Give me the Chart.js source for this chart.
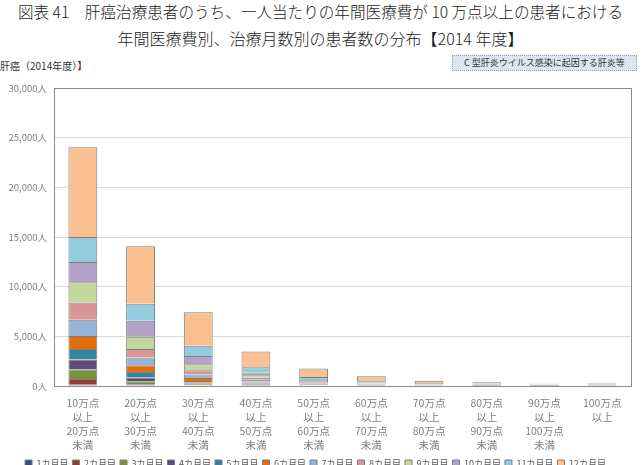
<!DOCTYPE html>
<html><head><meta charset="utf-8">
<script src="https://cdn.jsdelivr.net/npm/chart.js@4/dist/chart.umd.min.js"></script>
<style>
html,body{margin:0;padding:0;background:#fff;}
body{width:641px;height:465px;overflow:hidden;position:relative;font-family:"Noto Sans CJK JP","Noto Sans",sans-serif;}
.t{position:absolute;left:0;width:641px;text-align:center;font-size:16px;font-weight:300;color:#1a1a1a;white-space:nowrap;}
#sub{position:absolute;left:0;top:58px;font-size:10px;color:#333;white-space:nowrap;}
#box{position:absolute;left:452px;top:55px;width:183px;height:14px;border:1px dotted #8aa2c0;background:#dce6f2;font-size:9px;color:#333;text-align:center;line-height:14px;white-space:nowrap;}
#wrap{position:absolute;left:0;top:72px;width:641px;height:406px;}
</style></head>
<body>
<div class="t" style="top:0px;font-size:15.6px;">図表 41　肝癌治療患者のうち、一人当たりの年間医療費が 10 万点以上の患者における</div>
<div class="t" style="top:26px;">年間医療費別、治療月数別の患者数の分布【2014 年度】</div>
<div id="sub">肝癌（2014年度）】</div>
<div id="box">C 型肝炎ウイルス感染に起因する肝炎等</div>
<div id="wrap"><canvas id="c"></canvas></div>
<script>
const categories = [
  ['10万点','以上','20万点','未満'],
  ['20万点','以上','30万点','未満'],
  ['30万点','以上','40万点','未満'],
  ['40万点','以上','50万点','未満'],
  ['50万点','以上','60万点','未満'],
  ['60万点','以上','70万点','未満'],
  ['70万点','以上','80万点','未満'],
  ['80万点','以上','90万点','未満'],
  ['90万点','以上','100万点','未満'],
  ['100万点','以上']
];
const seriesNames = ['1カ月目','2カ月目','3カ月目','4カ月目','5カ月目','6カ月目','7カ月目','8カ月目','9カ月目','10カ月目','11カ月目','12カ月目'];
const m1  = [130, 100, 80, 60, 50, 25, 15, 10, 10, 15];
const m2  = [580, 80, 50, 30, 20, 10, 5, 5, 5, 5];
const m3  = [940, 300, 120, 80, 40, 20, 10, 10, 8, 10];
const m4  = [1010, 380, 80, 80, 40, 25, 15, 10, 10, 10];
const m5  = [1060, 560, 80, 90, 50, 30, 15, 15, 12, 15];
const m6  = [1310, 680, 400, 100, 60, 30, 20, 15, 15, 15];
const m7  = [1630, 770, 340, 200, 70, 35, 20, 20, 15, 20];
const m8  = [1750, 850, 440, 200, 80, 40, 25, 25, 20, 25];
const m9  = [2030, 1240, 610, 240, 90, 50, 35, 35, 25, 35];
const m10 = [2050, 1600, 810, 270, 110, 60, 50, 45, 40, 50];
const m11 = [2510, 1720, 1040, 550, 300, 150, 80, 50, 25, 40];
const m12 = [9040, 5800, 3380, 1580, 850, 500, 250, 130, 50, 60];
const seriesValues = [m1,m2,m3,m4,m5,m6,m7,m8,m9,m10,m11,m12];
const colors = ['#3b4f6e','#973a38','#77933c','#604a7b','#31859c','#e46c0a','#95b3d7','#d99694','#c3d69b','#b3a2c7','#93cddd','#fac090'];
const yTicks = [0,5000,10000,15000,20000,25000,30000];

const frame = {
  id:'frame',
  afterDatasetsDraw(chart){
    const a = chart.chartArea, ctx = chart.ctx;
    ctx.save();
    ctx.strokeStyle = '#8c8c8c';
    ctx.lineWidth = 1;
    ctx.strokeRect(Math.round(a.left)+0.5, Math.round(a.top)+0.5, Math.round(a.right-a.left), Math.round(a.bottom-a.top));
    ctx.restore();
  }
};

new Chart(document.getElementById('c'), {
  type:'bar',
  data:{
    labels:categories,
    datasets:seriesNames.map((n,i)=>({
      label:n, data:seriesValues[i], backgroundColor:colors[i],
      borderColor:'#7f7f7f', borderWidth:1,
      categoryPercentage:1.0, barPercentage:0.5
    }))
  },
  options:{
    responsive:true, maintainAspectRatio:false, animation:false,
    layout:{padding:{left:0,right:10,top:16,bottom:0}},
    plugins:{
      legend:{position:'bottom',
        labels:{boxWidth:7,boxHeight:7,padding:4,color:'#595959',font:{family:'"Noto Sans CJK JP"',size:9}}},
      tooltip:{enabled:false}
    },
    scales:{
      x:{stacked:true,
        grid:{display:false},
        border:{color:'#8c8c8c'},
        afterFit:(s)=>{s.height = 69;},
        ticks:{color:'#7f7f7f',padding:2,maxRotation:0,autoSkip:false,font:{family:'"Noto Sans CJK JP"',size:10.5,lineHeight:1.33}}
      },
      y:{stacked:true,min:0,max:30000,
        afterBuildTicks:(s)=>{s.ticks = yTicks.map(v=>({value:v}));},
        afterFit:(s)=>{s.width = 54;},
        grid:{color:'#d9d9d9',drawTicks:false},
        border:{color:'#8c8c8c'},
        ticks:{color:'#7f7f7f',padding:7,font:{family:'"Noto Sans CJK JP"',size:9.5},
          callback:(v)=>v.toLocaleString('en-US')+'人'}
      }
    }
  },
  plugins:[frame]
});
</script>
</body></html>
